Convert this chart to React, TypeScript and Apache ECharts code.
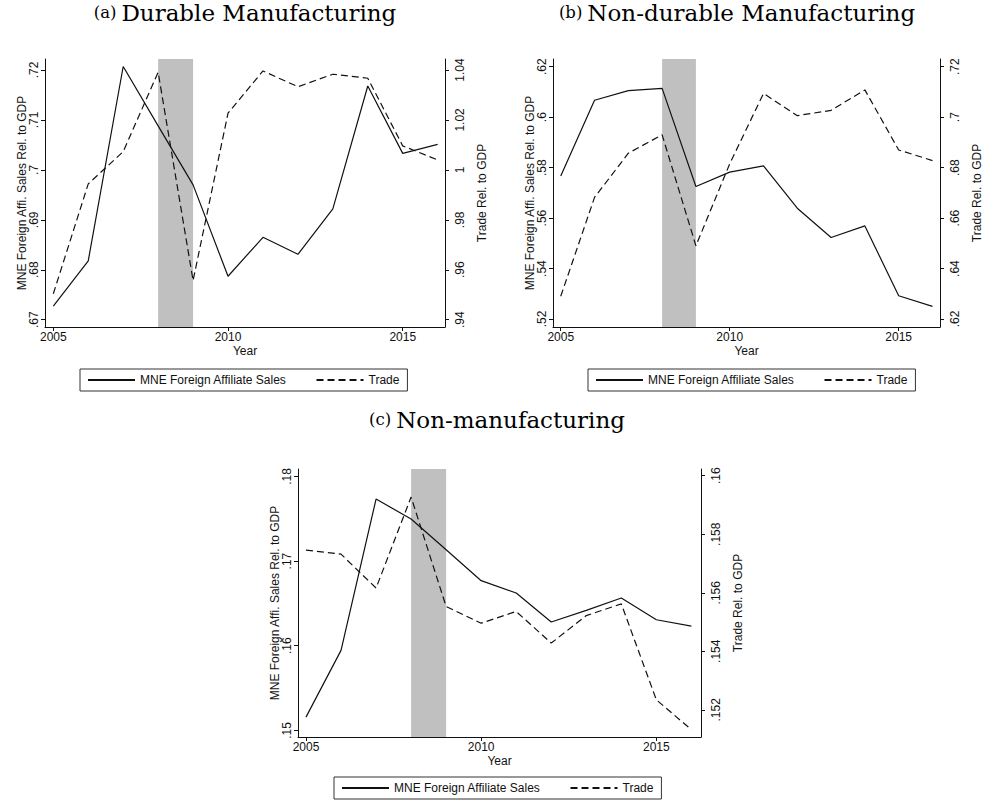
import React, { useEffect, useRef } from 'react';
import * as echarts from 'echarts';

// ---- data ----
const years = [2005, 2006, 2007, 2008, 2009, 2010, 2011, 2012, 2013, 2014, 2015, 2016];
const recession = [2008, 2009];
const yearTicks = [2005, 2010, 2015];

const durableMNE = [0.6727, 0.6818, 0.7207, 0.7088, 0.697, 0.6787, 0.6865, 0.6831, 0.6922, 0.7168, 0.7033, 0.7051];
const durableTrade = [0.9504, 0.9944, 1.0073, 1.0391, 0.9557, 1.0227, 1.0396, 1.0333, 1.0383, 1.0367, 1.0096, 1.004];
const durableLeftTicks = [0.67, 0.68, 0.69, 0.7, 0.71, 0.72];
const durableRightTicks = [0.94, 0.96, 0.98, 1.0, 1.02, 1.04];

const nondurMNE = [0.5767, 0.6067, 0.6105, 0.6114, 0.5725, 0.5782, 0.5807, 0.5639, 0.5523, 0.5569, 0.5292, 0.525];
const nondurTrade = [0.629, 0.6682, 0.6857, 0.693, 0.649, 0.6815, 0.7094, 0.7006, 0.7027, 0.7108, 0.687, 0.6828];
const nondurLeftTicks = [0.52, 0.54, 0.56, 0.58, 0.6, 0.62];
const nondurRightTicks = [0.62, 0.64, 0.66, 0.68, 0.7, 0.72];

const nonmanMNE = [0.15157, 0.15945, 0.17732, 0.17496, 0.17134, 0.16768, 0.16622, 0.1628, 0.16417, 0.16563, 0.16307, 0.16232];
const nonmanTrade = [0.15746, 0.15732, 0.15616, 0.15927, 0.15553, 0.15496, 0.15536, 0.15428, 0.15522, 0.15562, 0.15234, 0.15132];
const nonmanLeftTicks = [0.15, 0.16, 0.17, 0.18];
const nonmanRightTicks = [0.152, 0.154, 0.156, 0.158, 0.16];

const seriesNames = ['MNE Foreign Affiliate Sales', 'Trade'];
const leftAxisName = 'MNE Foreign Affi. Sales Rel. to GDP';
const rightAxisName = 'Trade Rel. to GDP';
const xAxisName = 'Year';

// ---- layout ----
const panels = [
  {
    label: '(a)', title: 'Durable Manufacturing', mne: durableMNE, trade: durableTrade,
    leftTicks: durableLeftTicks, rightTicks: durableRightTicks,
    grid: { left: 45, top: 59, width: 400, height: 268 },
    xRange: [2004.762, 2016.21], yL: [0.66854, 0.7222], yR: [0.93708, 1.0444],
    titleX: 245, titleY: 1, legend: { left: 80, top: 369 },
  },
  {
    label: '(b)', title: 'Non-durable Manufacturing', mne: nondurMNE, trade: nondurTrade,
    leftTicks: nondurLeftTicks, rightTicks: nondurRightTicks,
    grid: { left: 553, top: 59, width: 400, height: 268 },
    xRange: [2004.771, 2016.223], yL: [0.51683, 0.62305], yR: [0.61683, 0.72305],
    titleX: 737, titleY: 1, legend: { left: 588, top: 369 },
  },
  {
    label: '(c)', title: 'Non-manufacturing', mne: nonmanMNE, trade: nonmanTrade,
    leftTicks: nonmanLeftTicks, rightTicks: nonmanRightTicks,
    grid: { left: 298, top: 469, width: 403, height: 268 },
    xRange: [2004.772, 2016.274], yL: [0.14922, 0.18087], yR: [0.15107, 0.16023],
    titleX: 497, titleY: 408, legend: { left: 334, top: 777 },
  },
];

const fmt = (v: number) => {
  const s = String(parseFloat(Number(v).toFixed(4)));
  return s.startsWith('0.') ? s.slice(1) : s;
};

const SANS = 'Liberation Sans, Arial, sans-serif';
const SERIF = 'DejaVu Serif, serif';
const INK = '#111';

export default function App() {
  const ref = useRef<HTMLDivElement>(null);
  useEffect(() => {
    if (!ref.current) return;
    const chart = echarts.init(ref.current, null, { renderer: 'svg' });
    const axisLine = { show: true, lineStyle: { color: INK, width: 1 } };
    const labelStyle = { color: INK, fontFamily: SANS, fontSize: 12 };

    const grid: any[] = [];
    const xAxis: any[] = [];
    const yAxis: any[] = [];
    const series: any[] = [];
    const title: any[] = [];
    const legend: any[] = [];

    panels.forEach((p, i) => {
      grid.push({ ...p.grid, containLabel: false });
      xAxis.push({
        type: 'value', gridIndex: i, min: p.xRange[0], max: p.xRange[1],
        axisLine, splitLine: { show: false },
        axisTick: { show: true, length: 4, lineStyle: { color: INK }, customValues: yearTicks },
        axisLabel: { ...labelStyle, margin: 4, customValues: yearTicks, formatter: (v: number) => String(v) },
        name: xAxisName, nameLocation: 'middle', nameGap: 18, nameMoveOverlap: false,
        nameTextStyle: { ...labelStyle },
      });
      yAxis.push({
        type: 'value', gridIndex: i, position: 'left', min: p.yL[0], max: p.yL[1],
        axisLine, splitLine: { show: false },
        axisTick: { show: true, length: 4, lineStyle: { color: INK }, customValues: p.leftTicks },
        axisLabel: { ...labelStyle, margin: 5, rotate: 90, customValues: p.leftTicks, formatter: fmt },
        name: leftAxisName, nameLocation: 'middle', nameRotate: 90, nameGap: 17, nameMoveOverlap: false,
        nameTextStyle: { ...labelStyle },
      });
      yAxis.push({
        type: 'value', gridIndex: i, position: 'right', min: p.yR[0], max: p.yR[1],
        axisLine, splitLine: { show: false },
        axisTick: { show: true, length: 4, lineStyle: { color: INK }, customValues: p.rightTicks },
        axisLabel: { ...labelStyle, margin: 9, rotate: 90, customValues: p.rightTicks, formatter: fmt },
        name: rightAxisName, nameLocation: 'middle', nameRotate: 90, nameGap: 31, nameMoveOverlap: false,
        nameTextStyle: { ...labelStyle },
      });
      // recession band
      series.push({
        type: 'line', xAxisIndex: i, yAxisIndex: 2 * i, data: [], z: 1, silent: true,
        markArea: {
          silent: true,
          itemStyle: { color: '#c0c0c0', opacity: 1 },
          data: [[{ xAxis: recession[0] }, { xAxis: recession[1] }]],
        },
      });
      series.push({
        name: seriesNames[0], type: 'line', xAxisIndex: i, yAxisIndex: 2 * i, z: 3,
        symbol: 'none', silent: true,
        lineStyle: { color: INK, width: 1.2, type: 'solid' },
        itemStyle: { color: INK },
        data: years.map((y, k) => [y, p.mne[k]]),
      });
      series.push({
        name: seriesNames[1], type: 'line', xAxisIndex: i, yAxisIndex: 2 * i + 1, z: 3,
        symbol: 'none', silent: true,
        lineStyle: { color: INK, width: 1.2, type: [7, 4] },
        itemStyle: { color: INK },
        data: years.map((y, k) => [y, p.trade[k]]),
      });
      title.push({
        text: `{s|${p.label}} {b|${p.title}}`,
        left: p.titleX, top: p.titleY, textAlign: 'center', padding: 0,
        textStyle: {
          fontWeight: 'normal',
          rich: {
            s: { fontFamily: SERIF, fontSize: 16.5, fontWeight: 'normal', color: '#000' },
            b: { fontFamily: SERIF, fontSize: 23, fontWeight: 'normal', color: '#000' },
          },
        },
      });
      legend.push({
        data: seriesNames, left: p.legend.left, top: p.legend.top,
        orient: 'horizontal', selectedMode: false,
        borderColor: '#333', borderWidth: 1, borderRadius: 0,
        padding: [5, 8, 5, 7], itemGap: 29, itemWidth: 47, itemHeight: 12,
        itemStyle: { opacity: 0 },
        textStyle: { ...labelStyle },
      });
    });

    chart.setOption({
      animation: false,
      backgroundColor: '#fff',
      grid, xAxis, yAxis, series, title, legend,
    });
    return () => chart.dispose();
  }, []);
  return <div ref={ref} style={{ position: 'fixed', left: 0, top: 0, width: 984, height: 807 }} />;
}
